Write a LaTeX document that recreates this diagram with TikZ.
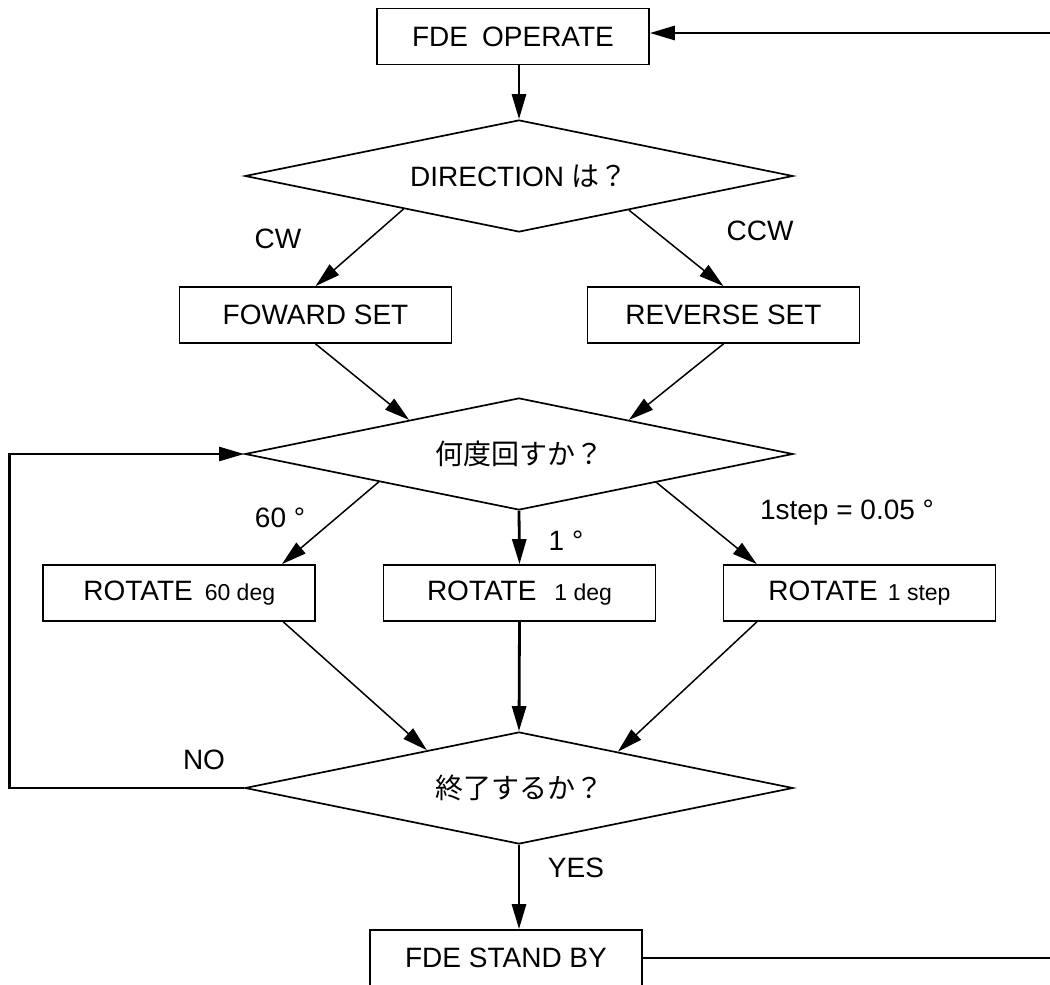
\documentclass[tikz,border=0pt]{standalone}
\usepackage{fontspec}
\setmainfont{Liberation Sans}
\newfontfamily\jpfont{Noto Sans CJK JP}
\usetikzlibrary{shapes.geometric,arrows.meta,calc}
\newcommand\subtxt{\fontsize{23}{25}\selectfont}
\begin{document}
\begin{tikzpicture}[x=1pt,y=-1pt,
  mainfont/.style={font=\fontsize{28}{30}\selectfont},
  lbl/.style={mainfont, inner sep=0pt},
  box/.style={draw, line width=1.7pt, minimum width=272pt, minimum height=56pt, inner sep=0pt, mainfont},
  dia/.style={diamond, aspect=4.9, draw, line width=1.7pt, minimum width=548pt, minimum height=112pt, inner sep=0pt, mainfont},
  tip/.style={-{Triangle[length=25pt,width=14pt]}},
  thickarr/.style={line width=2.8pt, tip},
  thinarr/.style={line width=1.5pt, tip},
  fbline/.style={line width=2.4pt},
  endline/.style={line width=1.7pt}
]
\fill[white] (0,0) rectangle (1050,985);
\useasboundingbox (0,0) rectangle (1050,985);

% nodes
\node[box] (op) at (513,36.5) {FDE\hspace{14pt}OPERATE};
\node[dia] (d1) at (519,176) {DIRECTION {\jpfont は？}};
\node[box] (fw) at (315.5,315) {FOWARD SET};
\node[box] (rv) at (723.5,315) {REVERSE SET};
\node[dia] (d2) at (519,454) {\jpfont 何度回すか？};
\node[box] (r60) at (179.25,593) {ROTATE\hspace{12pt}{\subtxt 60 deg}};
\node[box] (r1) at (519.5,593) {ROTATE\hspace{18pt}{\subtxt 1 deg}};
\node[box] (rs) at (859.5,593) {ROTATE\hspace{10pt}{\subtxt 1 step}};
\node[dia] (d3) at (519,788) {\jpfont 終了するか？};
\node[box] (sb) at (506,958) {FDE STAND BY};

% labels
\node[lbl] (lcw) at (278,239) {CW};
\node[lbl] (lccw) at (760,231) {CCW};
\node[lbl] (l60) at (280,518) {60 °};
\node[lbl] (l1) at (566,541) {1 °};
\node[lbl] (lstep) at (847,513) {1step = 0.05 °};
\node[lbl] (lno) at (204,760) {NO};
\node[lbl] (lyes) at (576,868) {YES};

% connectors
\coordinate (topR) at (1050,33);
\coordinate (botR) at (1050,958);
\coordinate (fbL) at (9.5,0);
\draw[thickarr] (topR) -- (topR -| op.east);
\draw[thickarr] (d1.north |- op.south) -- (d1.north);
\draw[thinarr] ($(d1.west)!0.58!(d1.south)$) -- (fw.north);
\draw[thinarr] ($(d1.south)!0.40!(d1.east)$) -- (rv.north);
\draw[thinarr] (fw.south) -- ($(d2.west)!0.6!(d2.north)$);
\draw[thinarr] (rv.south) -- ($(d2.north)!0.4!(d2.east)$);
\draw[thinarr] ($(d2.west)!0.49!(d2.south)$) -- ($(r60.north west)!0.875!(r60.north east)$);
\draw[thickarr] (d2.south) -- (r1.north);
\draw[thinarr] ($(d2.south)!0.5!(d2.east)$) -- ($(rs.north west)!0.125!(rs.north east)$);
\draw[thinarr] ($(r60.south west)!0.88!(r60.south east)$) -- ($(d3.west)!0.665!(d3.north)$);
\draw[thickarr] (r1.south) -- (d3.north);
\draw[thinarr] ($(rs.south west)!0.125!(rs.south east)$) -- ($(d3.north)!0.36!(d3.east)$);
\draw[fbline, tip] (d3.west) -- (d3.west -| fbL) -- (d2.west -| fbL) -- (d2.west);
\draw[thickarr] (d3.south) -- (d3.south |- sb.north);
\draw[endline] (sb.east) -- (botR);
\end{tikzpicture}
\end{document}
